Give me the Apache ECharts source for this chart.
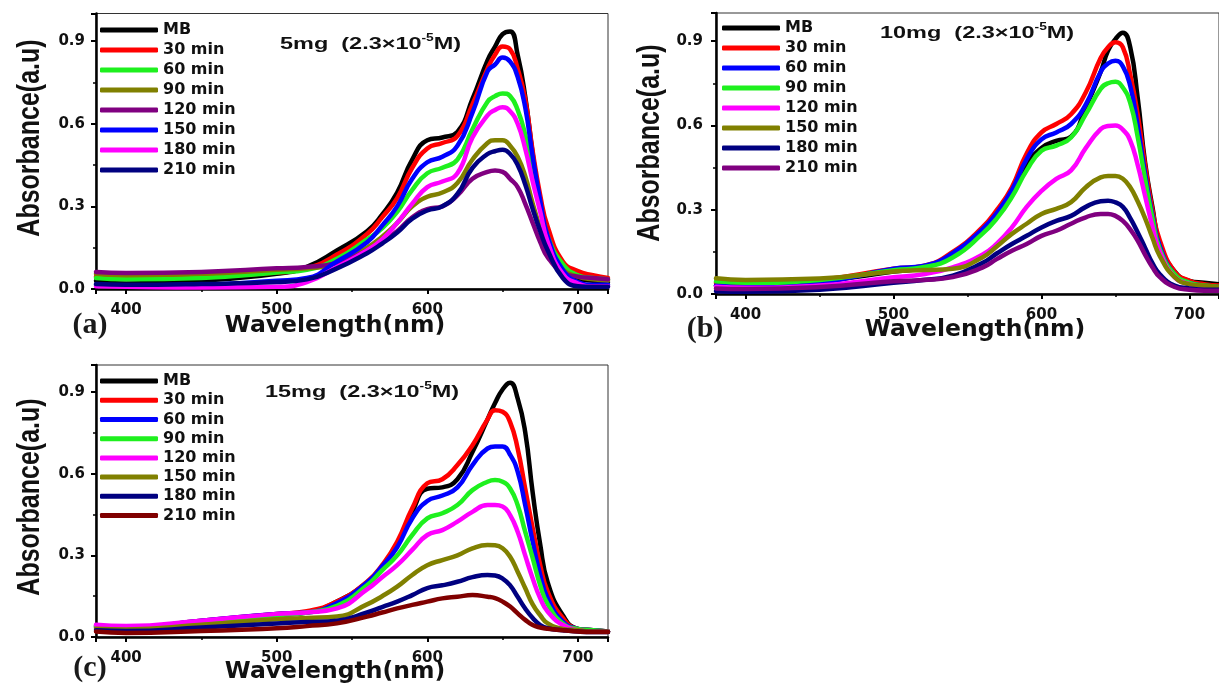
<!DOCTYPE html>
<html><head><meta charset="utf-8">
<script src="https://cdn.jsdelivr.net/npm/echarts@6/dist/echarts.min.js"></script>
<style>html,body{margin:0;padding:0;background:#fff}#c{width:1219px;height:690px}</style>
</head><body><div id="c"></div>
<script>
// ---------- DATA ----------
const wavelengths = [380,400,450,500,520,540,560,570,580,590,600,610,620,630,640,645,650,655,660,665,670,675,680,690,700,710,720];
const seriesLabels = ['MB','30 min','60 min','90 min','120 min','150 min','180 min','210 min'];
const yTicks = ['0.0','0.3','0.6','0.9'];

// Panel (a) 5mg
const aMB  = [.03,.02,.03,.055,.08,.14,.21,.27,.35,.47,.54,.55,.57,.69,.83,.88,.925,.935,.85,.70,.49,.31,.175,.08,.035,.03,.025];
const a30  = [.045,.04,.045,.06,.075,.125,.20,.26,.33,.44,.51,.53,.555,.67,.80,.85,.88,.87,.80,.69,.50,.34,.225,.10,.065,.05,.04];
const a60  = [.04,.035,.04,.06,.07,.11,.18,.22,.28,.36,.42,.44,.47,.58,.68,.70,.71,.70,.65,.56,.43,.30,.19,.09,.05,.04,.035];
const a90  = [.055,.05,.055,.07,.075,.095,.15,.19,.24,.30,.335,.35,.385,.47,.53,.54,.54,.52,.48,.41,.31,.22,.145,.07,.045,.035,.03];
const a120 = [.062,.058,.062,.075,.08,.095,.14,.17,.21,.26,.29,.30,.34,.40,.425,.43,.425,.40,.37,.31,.24,.17,.115,.06,.045,.04,.035];
const a150 = [.015,.012,.015,.03,.04,.10,.17,.23,.30,.40,.46,.48,.52,.64,.79,.815,.84,.825,.77,.66,.48,.32,.19,.07,.025,.015,.015];
const a180 = [.01,.008,.005,.008,.025,.08,.14,.18,.24,.31,.37,.39,.42,.55,.63,.65,.66,.645,.60,.51,.39,.28,.17,.055,.02,.01,.01];
const a210 = [.018,.015,.018,.025,.035,.075,.13,.165,.205,.255,.285,.30,.345,.44,.49,.50,.505,.49,.45,.38,.29,.21,.14,.04,.01,.008,.008];

// Panel (b) 10mg
const bMB  = [.03,.025,.045,.08,.095,.14,.22,.28,.36,.46,.52,.545,.56,.665,.79,.866,.907,.93,.878,.70,.47,.31,.18,.08,.047,.04,.035];
const b30  = [.04,.035,.05,.09,.10,.15,.237,.30,.38,.50,.575,.605,.64,.718,.84,.878,.896,.878,.78,.64,.46,.30,.19,.08,.047,.035,.03];
const b60  = [.03,.025,.04,.09,.10,.145,.23,.29,.37,.48,.55,.575,.605,.675,.79,.82,.83,.81,.74,.60,.43,.28,.17,.07,.04,.03,.025];
const b90  = [.045,.04,.05,.085,.095,.13,.214,.27,.345,.44,.51,.528,.557,.64,.73,.75,.755,.735,.68,.56,.41,.27,.16,.07,.04,.03,.025];
const b120 = [.026,.022,.03,.06,.07,.095,.14,.18,.237,.31,.367,.41,.44,.52,.587,.598,.60,.585,.546,.46,.35,.24,.15,.06,.035,.025,.02];
const b150 = [.056,.05,.055,.08,.085,.09,.13,.17,.214,.25,.285,.303,.327,.38,.415,.42,.42,.41,.38,.33,.27,.20,.135,.06,.035,.03,.025];
const b180 = [.01,.008,.015,.04,.05,.065,.11,.145,.178,.207,.237,.26,.278,.31,.33,.332,.326,.31,.27,.22,.165,.11,.07,.03,.02,.015,.015];
const b210 = [.02,.018,.025,.045,.05,.06,.094,.125,.154,.178,.207,.225,.25,.273,.285,.285,.278,.26,.23,.19,.14,.095,.06,.025,.015,.012,.012];

// Panel (c) 15mg
const cMB  = [.035,.03,.055,.08,.09,.13,.20,.26,.34,.46,.545,.55,.58,.68,.80,.86,.91,.935,.877,.754,.53,.34,.20,.08,.03,.025,.02];
const c30  = [.04,.035,.06,.085,.095,.13,.203,.264,.35,.473,.565,.58,.632,.705,.80,.834,.828,.79,.693,.546,.40,.264,.166,.07,.03,.025,.02];
const c60  = [.04,.035,.06,.085,.09,.125,.20,.26,.33,.436,.50,.52,.55,.632,.693,.70,.70,.67,.608,.485,.35,.228,.142,.057,.03,.025,.02];
const c90  = [.04,.035,.055,.08,.09,.115,.19,.245,.30,.375,.436,.455,.485,.54,.571,.577,.571,.546,.485,.387,.29,.19,.12,.05,.03,.025,.02];
const c120 = [.045,.04,.06,.085,.09,.105,.175,.22,.264,.32,.375,.393,.424,.46,.485,.485,.48,.448,.387,.30,.215,.142,.093,.044,.025,.02,.02];
const c150 = [.03,.028,.045,.065,.07,.075,.12,.15,.185,.228,.264,.283,.30,.326,.338,.337,.326,.295,.24,.18,.12,.08,.05,.03,.025,.02,.02];
const c180 = [.025,.022,.035,.05,.055,.06,.09,.11,.13,.154,.18,.19,.203,.22,.228,.226,.215,.19,.148,.105,.07,.044,.032,.025,.02,.018,.018];
const c210 = [.02,.015,.022,.032,.04,.05,.075,.09,.105,.118,.13,.142,.148,.154,.148,.143,.13,.112,.087,.063,.044,.035,.03,.025,.02,.018,.018];

// ---------- STYLE ----------
const C = {black:'#000000', red:'#ff0000', green:'#1ef01e', olive:'#808000', purple:'#800080',
           blue:'#0000ff', magenta:'#ff00ff', navy:'#000080', brown:'#800000'};
const panels = [
  {key:'a', data:[aMB,a30,a60,a90,a120,a150,a180,a210],
   colors:[C.black,C.red,C.green,C.olive,C.purple,C.blue,C.magenta,C.navy],
   grid:{left:96, top:13.5, width:512, height:275.5}, yMargin:11,
   legend:{left:100, top:20, lh:20}},
  {key:'b', data:[bMB,b30,b60,b90,b120,b150,b180,b210],
   colors:[C.black,C.red,C.blue,C.green,C.magenta,C.olive,C.navy,C.purple],
   grid:{left:716, top:13, width:507, height:281}, yMargin:13,
   legend:{left:722, top:18, lh:20}},
  {key:'c', data:[cMB,c30,c60,c90,c120,c150,c180,c210],
   colors:[C.black,C.red,C.blue,C.green,C.magenta,C.olive,C.navy,C.brown],
   grid:{left:96, top:365, width:512, height:272}, yMargin:11,
   legend:{left:100, top:371.5, lh:19.2}}
];

const tickFont = {fontSize:15, fontWeight:'bold', fontFamily:'DejaVu Sans', color:'#111'};
const grids=[], xAxes=[], yAxes=[], series=[], legends=[];
panels.forEach((p,i)=>{
  grids.push(Object.assign({show:true, borderColor:'#333', borderWidth:1, containLabel:false}, p.grid));
  xAxes.push({type:'value', gridIndex:i, min:380, max:720, splitNumber:4,
    axisLine:{show:true, onZero:false, lineStyle:{color:'#000', width:2.5}},
    axisTick:{show:true, inside:false, length:5, lineStyle:{color:'#000', width:2}},
    minorTick:{show:true, splitNumber:2, length:3, lineStyle:{color:'#000', width:1.5}},
    splitLine:{show:false},
    axisLabel:Object.assign({margin:14, showMinLabel:false, showMaxLabel:false}, tickFont)});
  yAxes.push({type:'value', gridIndex:i, min:0, max:1, interval:0.3,
    axisLine:{show:true, onZero:false, lineStyle:{color:'#000', width:2.5}},
    axisTick:{show:true, inside:false, length:5, lineStyle:{color:'#000', width:2}},
    minorTick:{show:true, splitNumber:2, length:3, lineStyle:{color:'#000', width:1.5}},
    splitLine:{show:false},
    axisLabel:Object.assign({margin:p.yMargin, showMaxLabel:false,
      formatter:v=>{const k=Math.round(v/0.3); return k>=0&&k<yTicks.length&&Math.abs(v-k*0.3)<1e-6?yTicks[k]:'';}}, tickFont)});
  const names=[];
  p.data.forEach((arr,j)=>{
    const name=p.key+'|'+seriesLabels[j];
    names.push(name);
    series.push({type:'line', name, xAxisIndex:i, yAxisIndex:i, showSymbol:false,
      smooth:0.5, color:p.colors[j],
      itemStyle:{color:p.colors[j]},
      lineStyle:{width:4.5, color:p.colors[j], cap:'round', join:'round'},
      data:wavelengths.map((w,k)=>[w,arr[k]])});
  });
  legends.push({data:names, orient:'vertical', left:p.legend.left, top:p.legend.top,
    padding:0, itemGap:0, itemWidth:58, itemHeight:5, icon:'roundRect',
    formatter:n=>n.split('|')[1], selectedMode:false,
    textStyle:{fontSize:16, fontWeight:'bold', fontFamily:'DejaVu Sans', color:'#111', lineHeight:p.legend.lh}});
});

const titleFont = 'bold 25px "Liberation Sans", Arial';
const xTitleFont = 'bold 23.5px "DejaVu Sans"';
const letterFont = 'bold 30px "Liberation Serif", "Times New Roman"';
function yName(x,y){return {type:'text', x, y, rotation:Math.PI/2, scaleY:1.25, style:{text:'Absorbance(a.u)', font:titleFont, fill:'#111', align:'center', verticalAlign:'middle'}};}
function xName(x,y){return {type:'text', x, y, style:{text:'Wavelength(nm)', font:xTitleFont, fill:'#111', align:'center', verticalAlign:'middle'}};}
function letter(x,y,t){return {type:'text', x, y, style:{text:t, font:letterFont, fill:'#1a1a1a', align:'center', verticalAlign:'middle'}};}
function note(x,y,t){return {type:'text', x, y, scaleX:1.38, style:{text:'{b|'+t+'  (2.3×10}{s|-5}{b|M)}', align:'left', verticalAlign:'middle',
  rich:{b:{fontSize:17, fontWeight:'bold', fontFamily:'Liberation Sans, Arial', fill:'#111', lineHeight:22},
        s:{fontSize:10, fontWeight:'bold', fontFamily:'Liberation Sans, Arial', fill:'#111', verticalAlign:'top', lineHeight:22}}}};}

const chart = echarts.init(document.getElementById('c'), null, {renderer:'canvas'});
chart.setOption({
  animation:false, backgroundColor:'#ffffff',
  grid:grids, xAxis:xAxes, yAxis:yAxes, legend:legends, series,
  graphic:[
    yName(30,138), yName(650,143), yName(30,497),
    xName(335,326), xName(975,330), xName(335,672),
    letter(90,325,'(a)'), letter(705,329,'(b)'), letter(90,668,'(c)'),
    note(280,44,'5mg'), note(880,33,'10mg'), note(265,392,'15mg')
  ]
});
</script></body></html>
